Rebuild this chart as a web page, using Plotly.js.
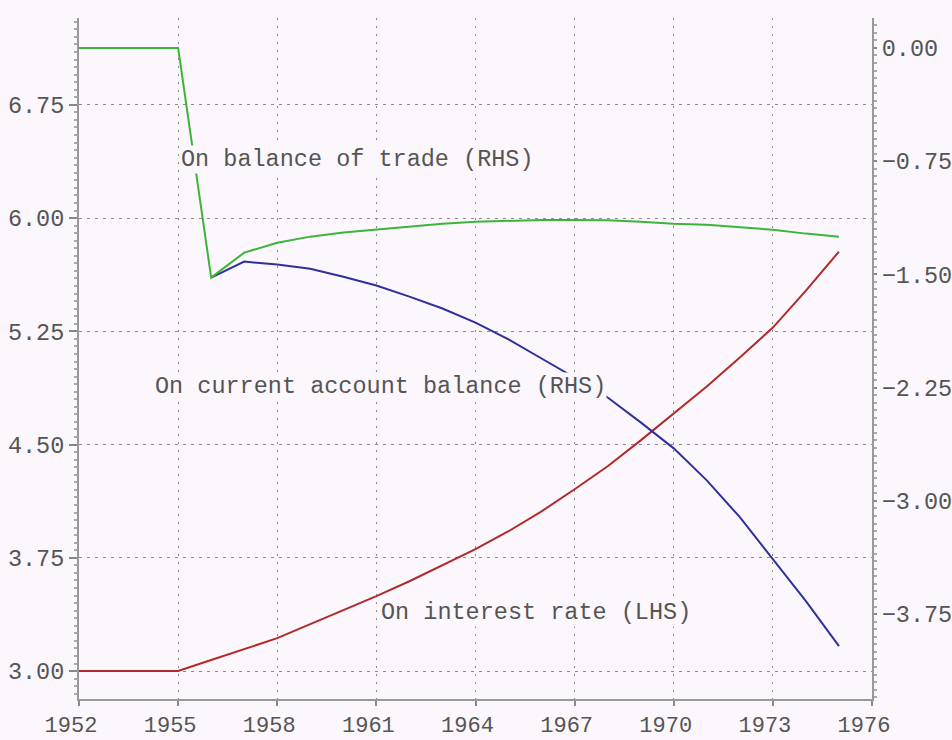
<!DOCTYPE html>
<html>
<head>
<meta charset="utf-8">
<script src="https://cdn.plot.ly/plotly-3.0.1.min.js"></script>
<style>
  html, body { margin: 0; padding: 0; background: #fcf7fc; }
  #chart { width: 952px; height: 740px; }
</style>
</head>
<body>
<div id="chart"></div>
<script>
// Years
const years = [1952,1953,1954,1955,1956,1957,1958,1959,1960,1961,1962,1963,1964,1965,1966,1967,1968,1969,1970,1971,1972,1973,1974,1975];

// On interest rate (LHS)
const interestRate = [3.00,3.00,3.00,3.00,3.073,3.146,3.218,3.311,3.403,3.496,3.595,3.701,3.807,3.926,4.058,4.204,4.356,4.528,4.706,4.885,5.077,5.275,5.520,5.778];

// On current account balance (RHS) - visible from 1956
const caYears = [1956,1957,1958,1959,1960,1961,1962,1963,1964,1965,1966,1967,1968,1969,1970,1971,1972,1973,1974,1975];
const currentAccount = [-1.521,-1.415,-1.435,-1.462,-1.515,-1.574,-1.647,-1.726,-1.819,-1.931,-2.057,-2.183,-2.315,-2.480,-2.652,-2.864,-3.108,-3.386,-3.664,-3.962];

// On balance of trade (RHS)
const tradeBalance = [0.00,0.00,0.00,0.00,-1.521,-1.356,-1.290,-1.250,-1.223,-1.204,-1.184,-1.164,-1.151,-1.144,-1.140,-1.140,-1.142,-1.151,-1.164,-1.171,-1.190,-1.204,-1.230,-1.250];

// Labels
const labelTrade = "On balance of trade (RHS)";
const labelCA = "On current account balance (RHS)";
const labelRate = "On interest rate (LHS)";

const BG = '#fcf7fc';
const FONT = 'Liberation Mono, DejaVu Sans Mono, monospace';
const tickFont = {family: FONT, size: 23.5, color: '#555'};

const traces = [
  {x: years, y: interestRate, type: 'scatter', mode: 'lines', yaxis: 'y',
   line: {color: '#b02a2a', width: 2}, name: labelRate},
  {x: caYears, y: currentAccount, type: 'scatter', mode: 'lines', yaxis: 'y2',
   line: {color: '#30309c', width: 2}, name: labelCA},
  {x: years, y: tradeBalance, type: 'scatter', mode: 'lines', yaxis: 'y2',
   line: {color: '#3cb43c', width: 2}, name: labelTrade}
];

const layout = {
  width: 952, height: 740,
  margin: {l: 79, r: 80, t: 18, b: 41},
  paper_bgcolor: BG, plot_bgcolor: BG,
  showlegend: false,
  xaxis: {
    range: [1952, 1976], tick0: 1952, dtick: 3,
    showgrid: true, gridcolor: '#8a8a8a', gridwidth: 1, griddash: '2px,6px',
    showline: true, linecolor: '#999', linewidth: 2,
    ticks: 'outside', ticklen: 5, tickcolor: '#888', tickwidth: 2,
    zeroline: false, tickfont: {family: FONT, size: 22, color: '#555'},
    ticklabelshift: -8, ticklabelstandoff: 0
  },
  yaxis: {
    range: [2.815, 7.325], tick0: 3, dtick: 0.75, tickformat: '.2f',
    showgrid: true, gridcolor: '#8a8a8a', gridwidth: 1, griddash: '3px,5px',
    showline: true, linecolor: '#999', linewidth: 2,
    ticks: 'outside', ticklen: 8, tickcolor: '#888', tickwidth: 2,
    zeroline: false, tickfont: tickFont, ticklabelstandoff: 0,
    minor: {dtick: 0.05, tick0: 3, ticks: 'outside', ticklen: 3, tickcolor: '#aaa', showgrid: false}
  },
  yaxis2: {
    overlaying: 'y', side: 'right',
    range: [-4.312, 0.198], tick0: 0, dtick: 0.75, tickformat: '.2f',
    showgrid: false, showline: true, linecolor: '#999', linewidth: 2,
    ticks: 'outside', ticklen: 3, tickcolor: '#888', tickwidth: 2,
    zeroline: false, tickfont: tickFont, ticklabelstandoff: 0,
    minor: {dtick: 0.05, tick0: 0, ticks: 'outside', ticklen: 3, tickcolor: '#aaa', showgrid: false}
  },
  annotations: [
    {x: 1960.44, y: 6.386, xref: 'x', yref: 'y', text: labelTrade, showarrow: false,
     font: {family: FONT, size: 23.5, color: '#555'}, bgcolor: BG, borderpad: 0},
    {x: 1961.11, y: 4.885, xref: 'x', yref: 'y', text: labelCA, showarrow: false,
     font: {family: FONT, size: 23.5, color: '#555'}, bgcolor: BG, borderpad: 0},
    {x: 1965.83, y: 3.39, xref: 'x', yref: 'y', text: labelRate, showarrow: false,
     font: {family: FONT, size: 23.5, color: '#555'}, bgcolor: BG, borderpad: 0}
  ]
};

Plotly.newPlot('chart', traces, layout, {displayModeBar: false, staticPlot: true});
</script>
</body>
</html>
